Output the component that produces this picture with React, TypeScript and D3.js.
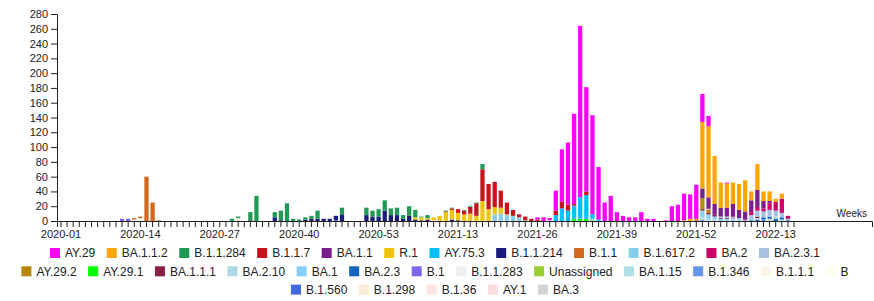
import React, { useEffect, useRef } from 'react';
import * as d3 from 'd3';

// weeks shown on the x axis, per year (2020 has 53 weeks, data stops at 2022-16)
const YEAR_WEEKS: [number, number][] = [
  [2020, 53],
  [2021, 52],
  [2022, 16],
];

// legend order (most frequent first); stacked bottom-up in reverse
const LINEAGES: string[] = [
  'AY.29', 'BA.1.1.2', 'B.1.1.284', 'B.1.1.7', 'BA.1.1', 'R.1', 'AY.75.3', 'B.1.1.214',
  'B.1.1', 'B.1.617.2', 'BA.2', 'BA.2.3.1', 'AY.29.2', 'AY.29.1', 'BA.1.1.1', 'BA.2.10',
  'BA.1', 'BA.2.3', 'B.1', 'B.1.1.283', 'Unassigned', 'BA.1.15', 'B.1.346', 'B.1.1.1',
  'B', 'B.1.560', 'B.1.298', 'B.1.36', 'AY.1', 'BA.3',
];

// how many legend items go on each row
const LEGEND_ROWS = [12, 13, 5];

const COLORS: string[] = [
  '#ff00ff', '#ffa500', '#1e9a55', '#c8121c', '#7b1f8e', '#f1c40f', '#00bfff', '#1c1c7c',
  '#d2691e', '#87ceeb', '#cc0066', '#aac0e0', '#b8860b', '#00ff00', '#8b2040', '#add8e6',
  '#87cefa', '#1565c0', '#7b68ee', '#f0f0f0', '#9acd32', '#b0e0e6', '#6495ed', '#fdf5e6',
  '#fffff0', '#4169e1', '#faebd7', '#ffe4e1', '#fddede', '#d3d3d3',
];

// weekly counts per lineage: [week, count]
const AY_29: [string, number][] = [
  ['2021-26', 3], ['2021-27', 5], ['2021-28', 3], ['2021-29', 27], ['2021-30', 71],
  ['2021-31', 84], ['2021-32', 122], ['2021-33', 232], ['2021-34', 141], ['2021-35', 134],
  ['2021-36', 71], ['2021-37', 25], ['2021-38', 34], ['2021-39', 12], ['2021-40', 7],
  ['2021-41', 5], ['2021-42', 5], ['2021-43', 12], ['2021-44', 3], ['2021-45', 3],
  ['2021-47', 1], ['2021-48', 20], ['2021-49', 22], ['2021-50', 36], ['2021-51', 33],
  ['2021-52', 46], ['2022-01', 38], ['2022-02', 14], ['2022-05', 1],
];
const BA_1_1_2: [string, number][] = [
  ['2021-50', 1], ['2021-51', 3], ['2021-52', 2], ['2022-01', 90], ['2022-02', 96],
  ['2022-03', 65], ['2022-04', 34], ['2022-05', 33], ['2022-06', 29], ['2022-07', 35],
  ['2022-08', 42], ['2022-09', 12], ['2022-10', 35], ['2022-11', 13], ['2022-12', 13],
  ['2022-13', 4], ['2022-14', 7],
];
const B_1_1_284: [string, number][] = [
  ['2020-29', 3], ['2020-30', 2], ['2020-32', 11], ['2020-33', 34], ['2020-36', 7],
  ['2020-37', 13], ['2020-38', 24], ['2020-39', 3], ['2020-40', 2], ['2020-41', 3],
  ['2020-42', 4], ['2020-43', 11], ['2020-47', 9], ['2020-51', 10], ['2020-52', 8],
  ['2020-53', 10], ['2021-01', 14], ['2021-02', 9], ['2021-03', 10], ['2021-04', 5],
  ['2021-05', 13], ['2021-06', 10], ['2021-07', 1], ['2021-08', 4], ['2021-11', 1],
  ['2021-12', 1], ['2021-14', 1], ['2021-15', 1], ['2021-16', 1], ['2021-17', 7],
];
const B_1_1_7: [string, number][] = [
  ['2021-11', 1], ['2021-12', 2], ['2021-13', 5], ['2021-14', 5], ['2021-15', 9],
  ['2021-16', 17], ['2021-17', 43], ['2021-18', 34], ['2021-19', 34], ['2021-20', 23],
  ['2021-21', 16], ['2021-22', 8], ['2021-23', 4], ['2021-24', 5], ['2021-25', 3],
  ['2021-26', 2], ['2021-29', 6], ['2021-30', 9], ['2021-31', 8], ['2021-32', 2],
  ['2021-34', 5],
];
const BA_1_1: [string, number][] = [
  ['2021-52', 1], ['2022-01', 13], ['2022-02', 15], ['2022-03', 14], ['2022-04', 12],
  ['2022-05', 12], ['2022-06', 17], ['2022-07', 11], ['2022-08', 11], ['2022-09', 16],
  ['2022-10', 23], ['2022-11', 10], ['2022-12', 3],
];
const R_1: [string, number][] = [
  ['2021-06', 3], ['2021-07', 4], ['2021-08', 2], ['2021-09', 4], ['2021-10', 7],
  ['2021-11', 12], ['2021-12', 13], ['2021-13', 10], ['2021-14', 9], ['2021-15', 10],
  ['2021-16', 7], ['2021-17', 27], ['2021-18', 16], ['2021-19', 10], ['2021-20', 8],
  ['2021-21', 1],
];
const AY_75_3: [string, number][] = [
  ['2021-29', 8], ['2021-30', 17], ['2021-31', 14], ['2021-32', 18], ['2021-33', 29],
  ['2021-34', 32], ['2021-35', 6], ['2021-36', 2],
];
const B_1_1_214: [string, number][] = [
  ['2020-32', 1], ['2020-36', 5], ['2020-37', 1], ['2020-41', 2], ['2020-42', 3],
  ['2020-43', 3], ['2020-44', 3], ['2020-45', 3], ['2020-46', 6], ['2020-47', 9],
  ['2020-51', 8], ['2020-52', 6], ['2020-53', 6], ['2021-01', 14], ['2021-02', 8],
  ['2021-03', 8], ['2021-04', 3], ['2021-05', 7], ['2021-06', 2], ['2021-07', 1],
  ['2021-08', 2], ['2021-12', 2], ['2021-13', 1],
];
const B_1_1: [string, number][] = [
  ['2020-13', 2], ['2020-14', 2], ['2020-15', 60], ['2020-16', 25], ['2020-17', 1],
];
const B_1_617_2: [string, number][] = [
  ['2021-19', 9], ['2021-20', 10], ['2021-21', 8], ['2021-22', 7], ['2021-23', 5],
  ['2021-24', 1], ['2021-35', 2],
];
const BA_2: [string, number][] = [
  ['2022-02', 1], ['2022-06', 1], ['2022-08', 1], ['2022-09', 4], ['2022-10', 5],
  ['2022-11', 4], ['2022-12', 9], ['2022-13', 12], ['2022-14', 19], ['2022-15', 4],
];
const BA_2_3_1: [string, number][] = [
  ['2022-02', 1], ['2022-04', 2], ['2022-05', 2], ['2022-06', 3], ['2022-07', 2],
  ['2022-08', 1], ['2022-09', 5], ['2022-10', 8], ['2022-11', 8], ['2022-12', 9],
  ['2022-13', 8], ['2022-14', 6], ['2022-15', 2],
];
const AY_29_2: [string, number][] = [['2022-01', 15], ['2022-02', 4]];
const AY_29_1: [string, number][] = [['2021-32', 3], ['2021-33', 3], ['2021-34', 3]];
const BA_1_1_1: [string, number][] = [
  ['2022-01', 2], ['2022-02', 2], ['2022-03', 3], ['2022-04', 1], ['2022-05', 1], ['2022-10', 2],
];
const BA_2_10: [string, number][] = [['2022-01', 2], ['2022-10', 2], ['2022-13', 3]];
const BA_1: [string, number][] = [
  ['2022-01', 7], ['2022-02', 6], ['2022-03', 4], ['2022-04', 3], ['2022-05', 3],
  ['2022-06', 2], ['2022-07', 2], ['2022-09', 2],
];
const BA_2_3: [string, number][] = [
  ['2022-09', 1], ['2022-10', 2], ['2022-11', 3], ['2022-12', 3], ['2022-13', 3],
  ['2022-14', 3], ['2022-15', 1],
];
const B_1: [string, number][] = [['2020-11', 3], ['2020-12', 3]];
const B_1_1_283: [string, number][] = [['2020-30', 1]];
const UNASSIGNED: [string, number][] = [['2021-35', 1]];
const BA_1_15: [string, number][] = [['2022-01', 3], ['2022-02', 3], ['2022-03', 2], ['2022-14', 2]];
const B_1_346: [string, number][] = [['2022-01', 2], ['2022-11', 2]];
const B_1_1_1: [string, number][] = [['2020-13', 2], ['2020-14', 3]];
const B_: [string, number][] = [['2020-14', 1]];
const B_1_560: [string, number][] = [['2020-46', 1]];
const B_1_298: [string, number][] = [['2020-30', 3]];
const B_1_36: [string, number][] = [['2021-09', 1]];
const AY_1: [string, number][] = [['2021-28', 1]];
const BA_3: [string, number][] = [['2022-12', 3]];

const SERIES: Record<string, [string, number][]> = {
  'AY.29': AY_29, 'BA.1.1.2': BA_1_1_2, 'B.1.1.284': B_1_1_284, 'B.1.1.7': B_1_1_7,
  'BA.1.1': BA_1_1, 'R.1': R_1, 'AY.75.3': AY_75_3, 'B.1.1.214': B_1_1_214, 'B.1.1': B_1_1,
  'B.1.617.2': B_1_617_2, 'BA.2': BA_2, 'BA.2.3.1': BA_2_3_1, 'AY.29.2': AY_29_2,
  'AY.29.1': AY_29_1, 'BA.1.1.1': BA_1_1_1, 'BA.2.10': BA_2_10, 'BA.1': BA_1, 'BA.2.3': BA_2_3,
  'B.1': B_1, 'B.1.1.283': B_1_1_283, Unassigned: UNASSIGNED, 'BA.1.15': BA_1_15,
  'B.1.346': B_1_346, 'B.1.1.1': B_1_1_1, B: B_, 'B.1.560': B_1_560, 'B.1.298': B_1_298,
  'B.1.36': B_1_36, 'AY.1': AY_1, 'BA.3': BA_3,
};

const FONT = '"Liberation Sans", Arial, Helvetica, sans-serif';

const App: React.FC = () => {
  const ref = useRef<SVGSVGElement | null>(null);

  useEffect(() => {
    if (!ref.current) return;
    const W = 874;
    const H = 301;
    const left = 57;
    const top = 14;
    const bottom = 221;
    const axisEnd = 872;
    const barRange = 741;

    const svg = d3.select(ref.current);
    svg.selectAll('*').remove();
    svg.attr('width', W).attr('height', H).style('color', '#222');

    const weeks: string[] = [];
    YEAR_WEEKS.forEach(([yr, n]) => {
      for (let w = 1; w <= n; w++) weeks.push(`${yr}-${String(w).padStart(2, '0')}`);
    });

    const table = weeks.map((wk) => {
      const row: Record<string, any> = { week: wk };
      LINEAGES.forEach((l) => (row[l] = 0));
      return row;
    });
    const byWeek = new Map(table.map((r) => [r.week, r]));
    LINEAGES.forEach((l) => {
      (SERIES[l] || []).forEach(([wk, v]) => {
        const r = byWeek.get(wk);
        if (r) r[l] += v;
      });
    });

    const keys = [...LINEAGES].reverse();
    const stacked = d3.stack<Record<string, any>>().keys(keys)(table);
    const color = d3.scaleOrdinal<string, string>().domain(LINEAGES).range(COLORS);

    const x = d3.scaleBand<string>().domain(weeks).range([left, left + barRange]).padding(0.3);
    const y = d3.scaleLinear().domain([0, 280]).range([bottom, top]);

    // Bars
    svg
      .append('g')
      .selectAll('g')
      .data(stacked)
      .enter()
      .append('g')
      .attr('fill', (s) => color(s.key))
      .selectAll('rect')
      .data((s) => s.filter((d) => d[1] - d[0] > 0))
      .enter()
      .append('rect')
      .attr('x', (d) => x(d.data.week) || 0)
      .attr('width', x.bandwidth())
      .attr('y', (d) => y(d[1]))
      .attr('height', (d) => y(d[0]) - y(d[1]));

    // X-axis
    const xAxis = svg
      .append('g')
      .attr('transform', `translate(0,${bottom})`)
      .call(
        d3
          .axisBottom(x)
          .tickSize(6)
          .tickFormat((d, i) => (i % 13 === 0 ? d : ''))
      );
    xAxis.select('.domain').attr('d', `M${left + 0.5},6V0.5H${axisEnd + 0.5}V6`);
    xAxis.selectAll('text').attr('font-size', 11).attr('font-family', FONT);

    svg
      .append('text')
      .attr('x', 867)
      .attr('y', 216.5)
      .attr('text-anchor', 'end')
      .attr('font-size', 10)
      .attr('font-family', FONT)
      .attr('fill', '#222')
      .text('Weeks');

    // Y-axis
    const yAxis = svg
      .append('g')
      .attr('transform', `translate(${left},0)`)
      .call(d3.axisLeft(y).tickValues(d3.range(0, 281, 20)).tickSize(6));
    yAxis.selectAll('text').attr('font-size', 11).attr('font-family', FONT);
    svg.selectAll('.domain, .tick line').attr('stroke', '#222');

    // Legend, centred rows
    const legend = svg.append('g').attr('font-family', FONT).attr('font-size', 12);
    const sq = 10;
    const gapIn = 5;
    const gapOut = 11.5;
    const items = LINEAGES.map((name, i) => {
      const g = legend.append('g');
      g.append('rect').attr('width', sq).attr('height', sq).attr('y', -sq / 2).attr('fill', COLORS[i]);
      const t = g
        .append('text')
        .attr('x', sq + gapIn)
        .attr('dy', '0.35em')
        .attr('fill', '#222')
        .text(name);
      const tw = (t.node() as SVGTextElement).getComputedTextLength();
      return { g, w: sq + gapIn + tw };
    });
    let start = 0;
    LEGEND_ROWS.forEach((n, r) => {
      const row = items.slice(start, start + n);
      start += n;
      const total = d3.sum(row, (it) => it.w) + gapOut * (row.length - 1);
      let cx = 435 - total / 2;
      const cy = 253 + r * 18.3;
      row.forEach((it) => {
        it.g.attr('transform', `translate(${cx},${cy})`);
        cx += it.w + gapOut;
      });
    });
  }, []);

  return <svg ref={ref} style={{ position: 'absolute', left: 0, top: 0, background: '#fff' }}></svg>;
};

export default App;
